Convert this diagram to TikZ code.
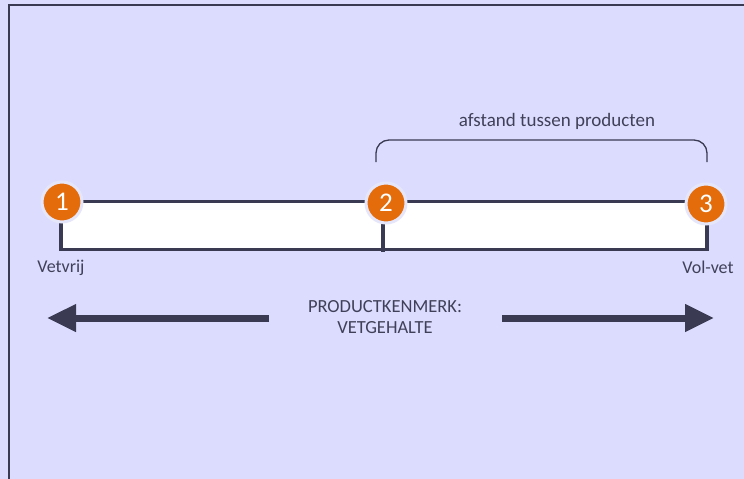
\documentclass[tikz,border=0pt]{standalone}
\usepackage{fontspec}
\setmainfont{Carlito}
\usetikzlibrary{arrows.meta}
\definecolor{bg}{HTML}{DCDCFF}
\definecolor{ink}{HTML}{3A3A52}
\definecolor{txt}{HTML}{404058}
\definecolor{org}{HTML}{E46C0A}
\definecolor{halo}{HTML}{E6E6FA}
\tikzset{
  num/.style={circle, fill=org, draw=halo, line width=3pt, minimum size=40pt, inner sep=0pt,
    text=white, font=\fontsize{27}{27}\selectfont},
  lbl/.style={text=txt, inner sep=0pt, font=\fontsize{19}{22}\selectfont},
  endlbl/.style={text=txt, inner sep=0pt, font=\fontsize{18}{21}\selectfont},
  caps/.style={text=txt, inner sep=0pt, align=center, font=\fontsize{18.5}{21}\selectfont},
  barline/.style={draw=ink, line width=3.5pt},
  bigarrow/.style={draw=ink, line width=7pt, -{Triangle[length=29pt,width=26pt]}},
}
\begin{document}
\begin{tikzpicture}[x=1pt,y=-1pt]
\useasboundingbox (0,0) rectangle (744,479);
\fill[bg] (0,0) rectangle (744,479);
\draw[ink, line width=2pt] (9,479) -- (9,5) -- (744,5);
% bar
\coordinate (tl) at (61,201.5);
\coordinate (tr) at (707,201.5);
\coordinate (br) at (707,249.5);
\coordinate (bl) at (61,249.5);
\coordinate (mt) at (383,223);
\coordinate (mb) at (383,252);
\fill[white] (tl) rectangle (br);
\draw[barline] (tl) -- (tr) -- (br) -- (bl) -- cycle;
\draw[barline] (mt) -- (mb);
% numbered circles
\node[num] (c1) at (62,202) {1};
\node[num] (c2) at (386,203) {2};
\node[num] (c3) at (706,204) {3};
% brace
\coordinate (bra) at (376,162);
\coordinate (brb) at (707,162);
\draw[ink, line width=1.3pt, rounded corners=13pt] (bra) -- (376,140) -- (707,140) -- (brb);
\node[lbl] (dist) at (557,121) {afstand tussen producten};
% end labels
\node[endlbl] (vv) at (61,268) {Vetvrij};
\node[endlbl] (vol) at (708,267) {Vol-vet};
% arrows
\node[caps] (pk) at (385,317) {PRODUCTKENMERK:\\VETGEHALTE};
\coordinate (la) at (269,318);
\coordinate (lt) at (47,318);
\coordinate (ra) at (502,318);
\coordinate (rt) at (714,318);
\draw[bigarrow] (la) -- (lt);
\draw[bigarrow] (ra) -- (rt);
\end{tikzpicture}
\end{document}
